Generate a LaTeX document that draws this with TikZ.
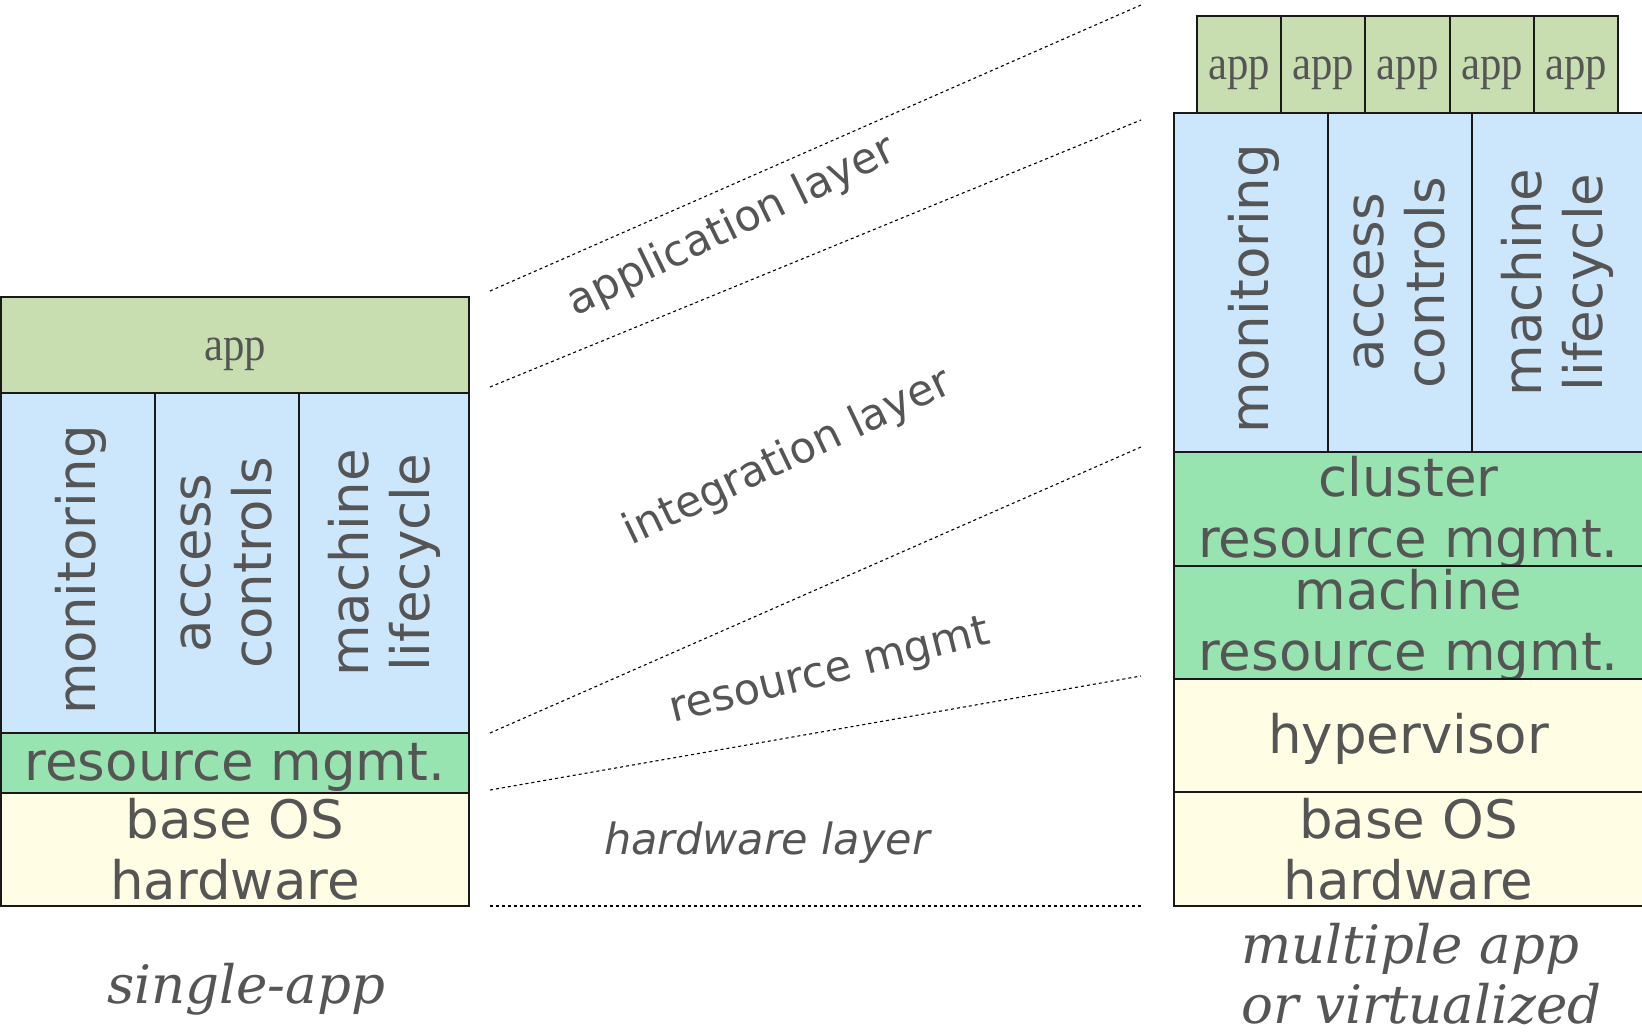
\documentclass[tikz,border=0pt]{standalone}
\usepackage{fontspec}
\usepackage{graphicx}
\setmainfont{DejaVu Sans}
\newfontfamily\appserif{Liberation Serif}
\newfontfamily\capserif{DejaVu Serif}

\definecolor{appfill}{HTML}{C8DEB0}
\definecolor{intfill}{HTML}{CCE6FC}
\definecolor{resfill}{HTML}{98E4B0}
\definecolor{basefill}{HTML}{FFFEE5}
\definecolor{ink}{HTML}{555555}

\newcommand\layerfont{\fontsize{53pt}{61pt}\selectfont}
\newcommand\bandfont{\fontsize{43pt}{50pt}\selectfont}
\newcommand\captionfont{\capserif\itshape\fontsize{53pt}{60pt}\selectfont}
\newcommand\appfont{\appserif\fontsize{48pt}{56pt}\selectfont}
\newcommand\apptext{\scalebox{0.89}[1]{app}}

\begin{document}
\begin{tikzpicture}[x=1pt,y=-1pt,
  layer/.style={draw=black!90, line width=1.3pt, inner sep=0pt, outer sep=0pt,
                text=ink, font=\layerfont, align=center},
  txt/.style={inner sep=0pt, text=ink, font=\layerfont, align=center},
  vtxt/.style={txt, rotate=90},
  apptxt/.style={inner sep=0pt, text=ink, font=\appfont, yshift=-9pt},
  guide/.style={draw=black, line width=1.1pt, dash pattern=on 3pt off 3pt},
  band/.style={inner sep=0pt, text=ink, font=\bandfont},
  caption/.style={inner sep=0pt, text=ink, font=\captionfont}]

\useasboundingbox (0,0) rectangle (1642,1033);
\fill[white] (0,0) rectangle (1642,1033);

% ---- single-app stack ----
\node[layer, fill=appfill, minimum width=468pt, minimum height=96pt] (Lapp) at (235,345) {};
\node[apptxt] (LappT) at (Lapp) {\apptext};

\node[layer, fill=intfill, minimum width=154pt, minimum height=340pt] (Lmon) at (78,563) {};
\node[xshift=3pt, yshift=-7pt, vtxt] (LmonT) at (Lmon) {monitoring};
\node[layer, fill=intfill, minimum width=144pt, minimum height=340pt] (Lacc) at (227,563) {};
\node[vtxt] (LaccT) at (Lacc) {access\\controls};
\node[layer, fill=intfill, minimum width=170pt, minimum height=340pt] (Llife) at (384,563) {};
\node[vtxt] (LlifeT) at (Llife) {machine\\lifecycle};

\node[layer, fill=resfill, minimum width=468pt, minimum height=60pt] (Lres) at (235,763) {};
\node[txt, yshift=-4pt] (LresT) at (Lres) {resource mgmt.};
\node[layer, fill=basefill, minimum width=468pt, minimum height=113pt] (Lbase) at (235,849.5) {base OS\\hardware};

% ---- multiple app / virtualized stack ----
\node[layer, fill=intfill, minimum width=154pt, minimum height=339pt] (Rmon) at (1251,282.5) {};
\node[xshift=3pt, yshift=-6pt, vtxt] (RmonT) at (Rmon) {monitoring};
\node[layer, fill=intfill, minimum width=144pt, minimum height=339pt] (Racc) at (1400,282.5) {};
\node[vtxt] (RaccT) at (Racc) {access\\controls};
\node[layer, fill=intfill, minimum width=171pt, minimum height=339pt] (Rlife) at (1557.5,282.5) {};
\node[vtxt] (RlifeT) at (Rlife) {machine\\lifecycle};

\foreach \i/\cx in {1/1239,2/1323,3/1407.5,4/1492,5/1576}{
  \node[layer, fill=appfill, minimum width=84pt, minimum height=97pt] (Rapp\i) at (\cx,64.5) {};
  \node[apptxt] (RappT\i) at (Rapp\i) {\apptext};
}

\node[layer, fill=resfill, minimum width=469pt, minimum height=114pt] (Rcl) at (1408.5,509) {};
\node[txt, yshift=-3pt] (RclT) at (Rcl) {cluster\\resource mgmt.};
\node[layer, fill=resfill, minimum width=469pt, minimum height=113pt] (Rmach) at (1408.5,622.5) {};
\node[txt, yshift=-3pt] (RmachT) at (Rmach) {machine\\resource mgmt.};
\node[layer, fill=basefill, minimum width=469pt, minimum height=113pt] (Rhyp) at (1408.5,735.5) {};
\node[txt, yshift=-3pt] (RhypT) at (Rhyp) {hypervisor};
\node[layer, fill=basefill, minimum width=469pt, minimum height=114pt] (Rbase) at (1408.5,849) {base OS\\hardware};

% ---- layer guides between the stacks ----
\coordinate (g1s) at (490,291);  \coordinate (g1e) at (1141,5);
\coordinate (g2s) at (490,387);  \coordinate (g2e) at (1141,120);
\coordinate (g3s) at (490,733);  \coordinate (g3e) at (1141,447);
\coordinate (g4s) at (490,790);  \coordinate (g4e) at (1141,676);
\coordinate (g5s) at (490,906);  \coordinate (g5e) at (1141,906);
\draw[guide] (g1s) -- (g1e);
\draw[guide] (g2s) -- (g2e);
\draw[guide] (g3s) -- (g3e);
\draw[guide] (g4s) -- (g4e);
\draw[guide] (g5s) -- (g5e);

\node[band, rotate=26] (bandApp) at (732,227) {application layer};
\node[band, rotate=25.5] (bandInt) at (788,458) {integration layer};
\node[band, rotate=14] (bandRes) at (830,673) {resource mgmt};
\node[band, font=\bandfont\itshape] (bandHw) at (767,843) {hardware layer};

% ---- captions ----
\node[caption, anchor=base] (capL) at (246,1003) {single-app};
\node[caption, anchor=base west] (capR1) at (1241,963) {multiple app};
\node[caption, anchor=base west] (capR2) at (1241,1023) {or virtualized};
\end{tikzpicture}
\end{document}
